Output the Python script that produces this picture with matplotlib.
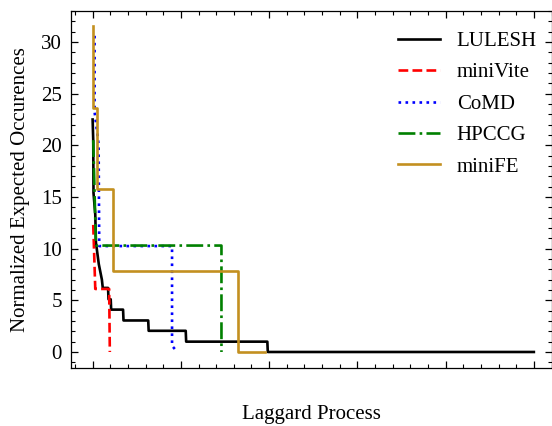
import matplotlib
matplotlib.use("Agg")
import matplotlib.pyplot as plt
from matplotlib.ticker import MultipleLocator, NullFormatter

plt.rcParams['font.family'] = ['Liberation Serif', 'DejaVu Serif']
plt.rcParams['font.size'] = 15

# Data (vertices; x = laggard process index, y = normalized expected occurrences)
lulesh_x = [0, 0.14, 0.2, 0.6, 0.75, 1.4, 2.1, 2.3, 3.5, 3.6, 4.1, 4.2, 6.9, 7.0, 12.6, 12.7, 21.1, 21.2, 39.6, 39.7, 100]
lulesh_y = [22.5, 20.5, 15.4, 13.3, 10.6, 8.5, 7.0, 6.2, 6.2, 5.1, 5.1, 4.1, 4.1, 3.05, 3.05, 2.05, 2.05, 1.0, 1.0, 0, 0]

minivite_x = [0.14, 0.6, 3.75, 3.9]
minivite_y = [12.3, 6.1, 6.1, 0]

comd_x = [0.45, 0.45, 1.36, 1.5, 18.0, 18.0, 19.2]
comd_y = [30.6, 23.2, 20.1, 10.25, 10.25, 0.6, 0]

hpccg_x = [0.14, 0.75, 29.2, 29.2]
hpccg_y = [20.5, 10.3, 10.3, 0]

minife_x = [0, 0, 1.0, 1.0, 4.7, 4.7, 33.0, 33.0, 39.0]
minife_y = [31.5, 23.625, 23.625, 15.75, 15.75, 7.875, 7.875, 0, 0]

series = [
    ("LULESH", lulesh_x, lulesh_y, "k", "-"),
    ("miniVite", minivite_x, minivite_y, "r", "--"),
    ("CoMD", comd_x, comd_y, "b", ":"),
    ("HPCCG", hpccg_x, hpccg_y, "g", "-."),
    ("miniFE", minife_x, minife_y, "#c39020", "-"),
]

fig = plt.figure(figsize=(5.52, 4.26), dpi=100)
ax = fig.add_axes([71/552, 1-368/426, 480.5/552, 357/426])

for name, xs, ys, c, ls in series:
    ax.plot(xs, ys, color=c, linestyle=ls, linewidth=1.9, label=name)

ax.set_xlim(-4.9, 104)
ax.set_ylim(-1.55, 33.0)

ax.xaxis.set_major_locator(MultipleLocator(20))
ax.xaxis.set_minor_locator(MultipleLocator(4))
ax.xaxis.set_major_formatter(NullFormatter())
ax.yaxis.set_major_locator(MultipleLocator(5))
ax.yaxis.set_minor_locator(MultipleLocator(1))

ax.tick_params(which='both', direction='in', top=True, right=True)
ax.tick_params(which='major', length=5.3, width=0.9, pad=6.5, labelsize=15)
ax.tick_params(which='minor', length=2.9, width=0.8)
for s in ax.spines.values():
    s.set_linewidth(0.9)

ax.set_xlabel("Laggard Process", fontsize=15)
ax.set_ylabel("Normalized Expected Occurences", fontsize=15)
ax.xaxis.set_label_coords(0.5, -0.104)
ax.yaxis.set_label_coords(-0.086, 0.5)

ax.legend(loc='upper right', bbox_to_anchor=(1.0, 0.984), frameon=False, fontsize=15,
          handlelength=2.0, handletextpad=0.8, borderaxespad=0.4, borderpad=0.3,
          labelspacing=0.57)

fig.savefig("out.png", dpi=100)
